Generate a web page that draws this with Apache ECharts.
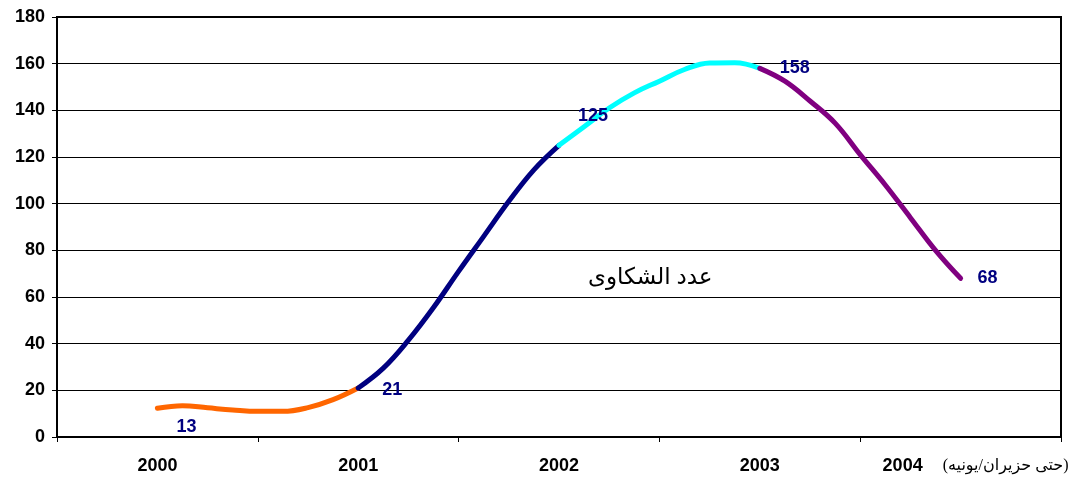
<!DOCTYPE html>
<html>
<head>
<meta charset="utf-8">
<script src="https://cdn.jsdelivr.net/npm/echarts@6/dist/echarts.min.js"></script>
<style>html,body{margin:0;padding:0;background:#fff}#c{width:1079px;height:484px}</style>
</head>
<body>
<div id="c"></div>
<script>
const years = ['2000', '2001', '2002', '2003', '2004'];
const yearNote = '(حتى حزيران/يونيه)';
const seriesTitle = 'عدد الشكاوى';
const yTicks = [0, 20, 40, 60, 80, 100, 120, 140, 160, 180];

// values sampled every 1/8 year, each segment starting mid-year
const orangeValues = [12.3, 13.4, 12.5, 11.6, 11.0, 11.0, 12.6, 16.0, 21];
const navyValues   = [21, 29.5, 41.5, 55.5, 71, 86, 101, 114.5, 125];
const cyanValues   = [125, 133, 141, 147.5, 152.5, 157.5, 160.3, 160.4, 158];
const purpleValues = [158, 152.5, 144, 134.5, 121, 108, 94, 80, 68];
const segmentStarts = [0.5, 1.5, 2.5, 3.5];

// labelled points: [segment, index, offsetX, offsetY]
const labelled = [[0, 1, 4, 21], [1, 0, 34, 2], [2, 0, 34, -29], [3, 0, 35, 0], [3, 8, 27, 0]];

const segs = [orangeValues, navyValues, cyanValues, purpleValues];
const colors = ['#FF6600', '#000080', '#00FFFF', '#800080'];
const labelFont = {fontFamily: 'Liberation Sans, Arial, sans-serif', fontWeight: 'bold', fontSize: 18};

const series = segs.map((vals, s) => ({
  type: 'line',
  xAxisIndex: 1,
  smooth: 0.4,
  symbol: 'circle',
  symbolSize: 0,
  showSymbol: true,
  z: 2 + s,
  lineStyle: {color: colors[s], width: 5, cap: 'round'},
  itemStyle: {color: colors[s]},
  data: vals.map((v, i) => {
    const item = {value: [segmentStarts[s] + i / 8, v]};
    const lb = labelled.find(l => l[0] === s && l[1] === i);
    if (lb) {
      item.label = Object.assign({
        show: true, position: 'inside', offset: [lb[2], lb[3]],
        color: '#000080', formatter: p => String(Math.round(p.value[1]))
      }, labelFont);
    }
    return item;
  })
}));

const chart = echarts.init(document.getElementById('c'));
chart.setOption({
  animation: false,
  backgroundColor: '#fff',
  grid: {left: 57, right: 18, top: 17, bottom: 47, show: true, borderColor: '#000', borderWidth: 2},
  xAxis: [{
    type: 'category',
    data: years,
    boundaryGap: true,
    axisLine: {lineStyle: {color: '#000', width: 2}},
    axisTick: {show: true, length: 5, lineStyle: {color: '#000', width: 1}},
    splitLine: {show: false},
    axisLabel: Object.assign({
      color: '#000', margin: 20, interval: 0,
      formatter: (v, i) => i === years.length - 1 ? '{y|' + v + '}{n|' + yearNote + '}' : v,
      rich: {
        y: Object.assign({color: '#000', padding: [0, 0, 0, 30]}, labelFont),
        n: {fontFamily: 'Liberation Serif, DejaVu Sans, serif', fontWeight: 'normal', fontSize: 16, color: '#000', padding: [0, 0, 0, 20]}
      }
    }, labelFont)
  }, {
    type: 'value', min: 0, max: 5, show: false
  }],
  yAxis: {
    type: 'value', min: 0, max: 180, interval: 20,
    axisLine: {show: true, lineStyle: {color: '#000', width: 2}},
    axisTick: {show: true, length: 5, lineStyle: {color: '#000'}},
    splitLine: {lineStyle: {color: '#000', width: 1}},
    axisLabel: Object.assign({color: '#000', margin: 12,
      formatter: v => yTicks.includes(v) ? String(v) : ''}, labelFont)
  },
  graphic: [{
    type: 'text', left: 588, top: 266, z: 10,
    style: {text: seriesTitle, fill: '#000', font: '23px "Liberation Serif", "DejaVu Sans", serif'}
  }],
  series: series
});
</script>
</body>
</html>
